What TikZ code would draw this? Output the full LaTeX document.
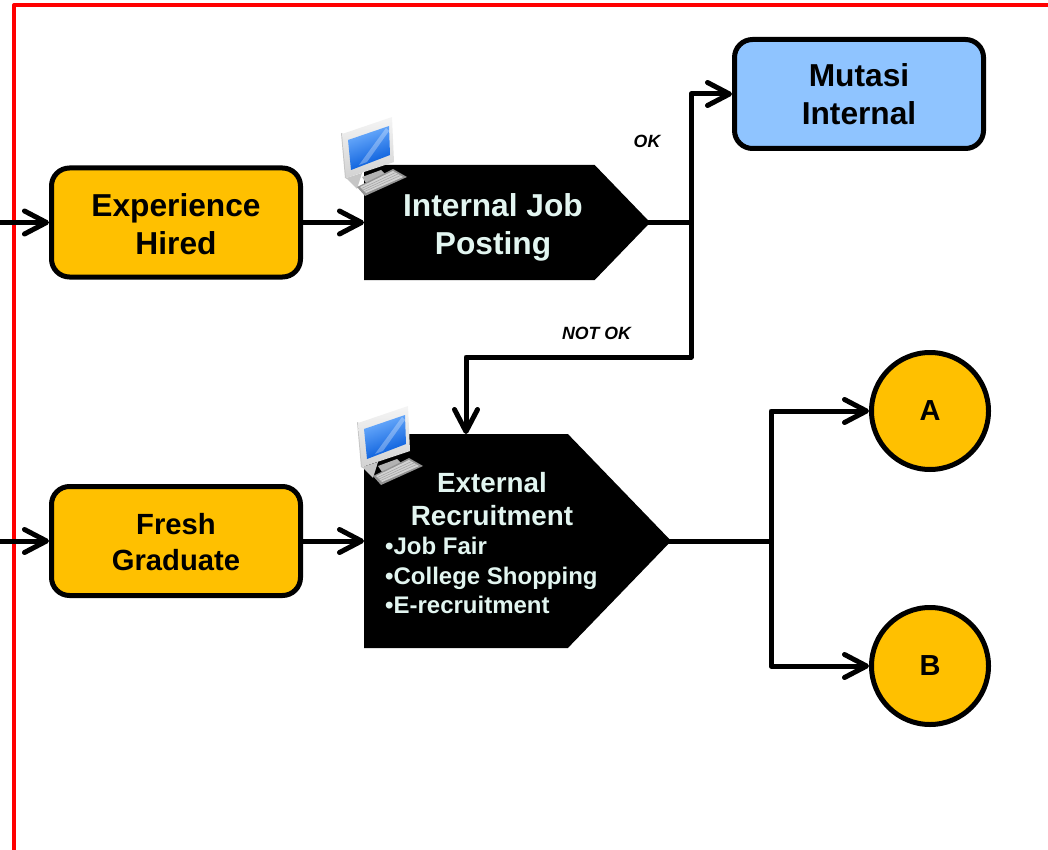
\documentclass[tikz,border=0pt]{standalone}
\usepackage{fontspec}
\setmainfont{Liberation Sans}
\usepackage{tikz}
\usetikzlibrary{shapes, arrows.meta, positioning, calc}
\definecolor{boxorange}{RGB}{255, 192, 0}
\definecolor{boxblue}{RGB}{143, 196, 255}
\definecolor{palemint}{RGB}{226, 245, 240}
\definecolor{framered}{RGB}{255, 0, 0}
\newcommand{\fsize}[2]{\bfseries\fontsize{#1}{#2}\selectfont}
\tikzset{
  startbox/.style={draw=black, line width=5pt, rounded corners=18pt, fill=boxorange, minimum width=249pt, minimum height=109pt, align=center, inner sep=0pt, font=\fsize{31.7}{38}},
  sigbox/.style={shape=signal, signal to=east, signal pointer angle=92, fill=black, inner sep=0pt, anchor=west},
  sigtext/.style={text=palemint, inner sep=0pt, align=center},
  endcircle/.style={circle, draw=black, line width=5pt, fill=boxorange, minimum size=117pt, inner sep=0pt, font=\fsize{29}{34}},
  flowline/.style={line width=5pt, black, -{Straight Barb[length=22pt, width=23pt, round]}},
  plainline/.style={line width=5pt, black, shorten <=-3pt},
  tagtext/.style={font=\bfseries\itshape\fontsize{17.7}{21}\selectfont, inner sep=0pt}
}
\newcommand{\pcicon}[2]{%
  \begin{scope}[shift={(#1,#2)}]
    \fill[gray!45] (5,45) -- (21,40) -- (16,56) -- cycle;
    \fill[gray!60] (21,44) -- (40,37) -- (44,41) -- (25,50) -- cycle;
    \fill[gray!45] (0,0) -- (2,1) -- (6,46) -- (4,45) -- cycle;
    \shade[top color=gray!8, bottom color=gray!35] (1,1) -- (51,-16) -- (53,29) -- (5,45) -- cycle;
    \shade[left color=cyan!45!blue!55, right color=blue!60!cyan!85!black, shading angle=20] (7,7) -- (48,-7) -- (49,22) -- (10,37) -- cycle;
    \fill[white, opacity=.3] (18,32) -- (45,-5) -- (48,-2) -- (26,29) -- cycle;
    \fill[gray!85] (16,54) -- (52,36) -- (66,44) -- (24,63) -- cycle;
    \fill[gray!35] (19,54) -- (52,38) -- (62,44) -- (25,60) -- cycle;
    \foreach \keyrow in {0.25, 0.5, 0.75} {
      \draw[gray!70, line width=.6pt] ($(19,54)!\keyrow!(25,60)$) -- ($(52,38)!\keyrow!(62,44)$);
    }
  \end{scope}
}
\begin{document}
\begin{tikzpicture}[x=1pt, y=-1pt]
  \useasboundingbox (0, 0) rectangle (1048, 850);

  % Frame
  \draw[framered, line width=4pt, line join=round] (14, 850) -- (14, 5) -- (1048, 5);

  % Source boxes
  \node[startbox] (exphired) at (176, 222.5) {\rule{0pt}{27pt}Experience\\Hired};
  \node[startbox, font=\fsize{29.2}{36}] (freshgrad) at (176, 541) {\rule{0pt}{23.5pt}Fresh\\Graduate};
  \node[startbox, fill=boxblue] (mutasi) at (859, 94) {Mutasi\\Internal};

  % Process shapes
  \node[sigbox, minimum width=286pt, minimum height=115pt] (jobpost) at (364, 222.5) {};
  \node[sigbox, minimum width=307pt, minimum height=214pt] (extrec) at (364, 541) {};
  \node[sigtext, font=\fsize{31.7}{38}] (jobposttext) at (493, 227) {Internal Job\\Posting};
  \node[sigtext, font=\fsize{27.8}{33}] (extrectext) at (492, 499.5) {External\\Recruitment};
  \node[sigtext, align=left, anchor=north west, font=\fsize{24}{29.5}] (extlist) at (385, 537) {•Job Fair\\•College Shopping\\•E-recruitment};

  % Icons
  \pcicon{341}{133}
  \pcicon{357}{422}

  % End circles
  \node[endcircle] (circa) at (930, 411) {A};
  \node[endcircle] (circb) at (930, 666) {B};

  % Free ends and junctions
  \coordinate (inexp) at (0, 222.5);
  \coordinate (infresh) at (0, 541);
  \coordinate (jobsplit) at (691, 222.5);
  \coordinate (notokturn) at (691, 357);
  \coordinate (extin) at (466, 434);
  \coordinate (extsplit) at (771, 541);

  % Connectors
  \draw[flowline] (inexp) -- (exphired.west);
  \draw[flowline] (infresh) -- (freshgrad.west);
  \draw[flowline] (exphired.east) -- (jobpost.west);
  \draw[flowline] (freshgrad.east) -- (extrec.west);
  \draw[plainline] (jobpost.east) -- (jobsplit);
  \draw[flowline, line join=round] (jobsplit) |- (mutasi.west);
  \draw[flowline, line join=round] (jobsplit) -- (notokturn) -| (extin);
  \draw[plainline] (extrec.east) -- (extsplit);
  \draw[flowline, line join=round] (extsplit) |- (circa.west);
  \draw[flowline, line join=round] (extsplit) |- (circb.west);

  % Branch tags
  \node[tagtext] (oktag) at (647, 141) {OK};
  \node[tagtext] (notoktag) at (596.5, 333) {NOT OK};
\end{tikzpicture}
\end{document}
